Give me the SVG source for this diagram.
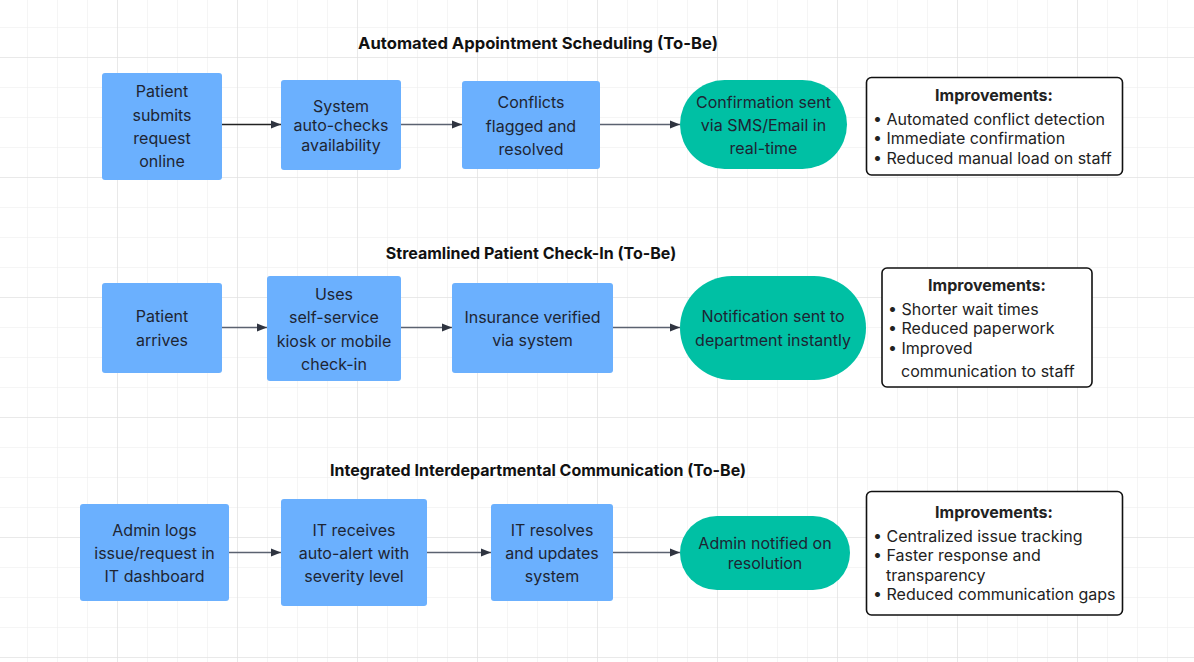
<svg xmlns="http://www.w3.org/2000/svg" width="1194" height="662" viewBox="0 0 1194 662">
<defs>
<pattern id="minor" x="27" y="27" width="30" height="30" patternUnits="userSpaceOnUse">
<path d="M0 0H30M0 0V30" fill="none" stroke="#ececec" stroke-width="1"/>
</pattern>
<pattern id="major" x="117" y="57" width="120" height="120" patternUnits="userSpaceOnUse">
<path d="M0 0H120M0 0V120" fill="none" stroke="#dedede" stroke-width="1"/>
</pattern>
<marker id="arr" viewBox="0 0 10 10" refX="10" refY="5" markerWidth="10" markerHeight="10" markerUnits="userSpaceOnUse" orient="auto">
<path d="M0 1L10 5L0 9Z" fill="#2f3440"/>
</marker>
<style>
.box{fill:#6bb0fe;}
.term{fill:#00c0a4;}
.imp{fill:#ffffff;stroke:#111;stroke-width:1.6;}
text{font-family:Inter,"Noto Sans","Liberation Sans",sans-serif;fill:#1e2533;}
.t{font-size:16px;text-anchor:middle;}
.title{font-size:16px;font-weight:bold;text-anchor:middle;fill:#111;}
.ih{font-size:16px;font-weight:bold;text-anchor:middle;fill:#222;}
.il{font-size:16px;fill:#222;}
.edge{stroke:#5b6270;stroke-width:1.3;fill:none;marker-end:url(#arr);}
</style>
</defs>
<rect width="1194" height="662" fill="#ffffff"/>
<rect width="1194" height="662" fill="url(#minor)"/>
<rect width="1194" height="662" fill="url(#major)"/>

<text class="title" x="538" y="49" style="font-size:16.6px">Automated Appointment Scheduling (To-Be)</text>
<text class="title" x="531" y="259">Streamlined Patient Check-In (To-Be)</text>
<text class="title" x="538" y="476">Integrated Interdepartmental Communication (To-Be)</text>

<g id="connectors">
<path class="edge" d="M221 124.5H281" style="stroke:#222"/>
<path class="edge" d="M401 124.5H462"/>
<path class="edge" d="M600 124.5H680"/>
<path class="edge" d="M222 327.5H267"/>
<path class="edge" d="M401 327.5H452"/>
<path class="edge" d="M613 327.5H680"/>
<path class="edge" d="M229 552.5H281"/>
<path class="edge" d="M427 552.5H491"/>
<path class="edge" d="M613 552.5H680"/>
</g>

<g id="n1">
<rect class="box" x="102" y="73" width="120" height="107" rx="3"/>
<text class="t" x="162" y="97">Patient</text>
<text class="t" x="162" y="120.5">submits</text>
<text class="t" x="162" y="143.5">request</text>
<text class="t" x="162" y="167">online</text>
</g>
<g id="n2">
<rect class="box" x="281" y="80" width="120" height="90" rx="3"/>
<text class="t" x="341" y="111.5">System</text>
<text class="t" x="341" y="131">auto-checks</text>
<text class="t" x="341" y="150.5">availability</text>
</g>
<g id="n3">
<rect class="box" x="462" y="81" width="138" height="88" rx="3"/>
<text class="t" x="531" y="108">Conflicts</text>
<text class="t" x="531" y="131.5">flagged and</text>
<text class="t" x="531" y="155">resolved</text>
</g>
<g id="n4">
<rect class="term" x="680" y="80" width="167" height="89" rx="44.5"/>
<text class="t" x="763.5" y="108">Confirmation sent</text>
<text class="t" x="763.5" y="131">via SMS/Email in</text>
<text class="t" x="763.5" y="154">real-time</text>
</g>
<g id="n5">
<rect class="imp" x="866.5" y="77.5" width="256" height="97.5" rx="5"/>
<text class="ih" x="994" y="101">Improvements:</text>
<text class="il" x="873" y="124.5">• Automated conflict detection</text>
<text class="il" x="873" y="144">• Immediate confirmation</text>
<text class="il" x="873" y="163.5">• Reduced manual load on staff</text>
</g>

<g id="n6">
<rect class="box" x="102" y="283" width="120" height="90" rx="3"/>
<text class="t" x="162" y="322">Patient</text>
<text class="t" x="162" y="346">arrives</text>
</g>
<g id="n7">
<rect class="box" x="267" y="276" width="134" height="105" rx="3"/>
<text class="t" x="334" y="300">Uses</text>
<text class="t" x="334" y="323">self-service</text>
<text class="t" x="334" y="347">kiosk or mobile</text>
<text class="t" x="334" y="370">check-in</text>
</g>
<g id="n8">
<rect class="box" x="452" y="283" width="161" height="90" rx="3"/>
<text class="t" x="532.5" y="323">Insurance verified</text>
<text class="t" x="532.5" y="346">via system</text>
</g>
<g id="n9">
<rect class="term" x="680" y="276" width="186" height="104" rx="52"/>
<text class="t" x="773" y="322">Notification sent to</text>
<text class="t" x="773" y="346">department instantly</text>
</g>
<g id="n10">
<rect class="imp" x="882" y="268" width="210" height="119" rx="5"/>
<text class="ih" x="987" y="291">Improvements:</text>
<text class="il" x="888" y="314.5">• Shorter wait times</text>
<text class="il" x="888" y="334">• Reduced paperwork</text>
<text class="il" x="888" y="353.5">• Improved</text>
<text class="il" x="901" y="376.5">communication to staff</text>
</g>

<g id="n11">
<rect class="box" x="80" y="504" width="149" height="97" rx="3"/>
<text class="t" x="154.5" y="536">Admin logs</text>
<text class="t" x="154.5" y="559">issue/request in</text>
<text class="t" x="154.5" y="582">IT dashboard</text>
</g>
<g id="n12">
<rect class="box" x="281" y="499" width="146" height="107" rx="3"/>
<text class="t" x="354" y="536">IT receives</text>
<text class="t" x="354" y="559">auto-alert with</text>
<text class="t" x="354" y="582">severity level</text>
</g>
<g id="n13">
<rect class="box" x="491" y="504" width="122" height="97" rx="3"/>
<text class="t" x="552" y="536">IT resolves</text>
<text class="t" x="552" y="559">and updates</text>
<text class="t" x="552" y="582">system</text>
</g>
<g id="n14">
<rect class="term" x="680" y="516" width="170" height="74" rx="37"/>
<text class="t" x="765" y="549">Admin notified on</text>
<text class="t" x="765" y="569">resolution</text>
</g>
<g id="n15">
<rect class="imp" x="866.5" y="491.5" width="256" height="123.5" rx="5"/>
<text class="ih" x="994" y="518">Improvements:</text>
<text class="il" x="873" y="541.5">• Centralized issue tracking</text>
<text class="il" x="873" y="561">• Faster response and</text>
<text class="il" x="886" y="580.5">transparency</text>
<text class="il" x="873" y="600">• Reduced communication gaps</text>
</g>
</svg>
